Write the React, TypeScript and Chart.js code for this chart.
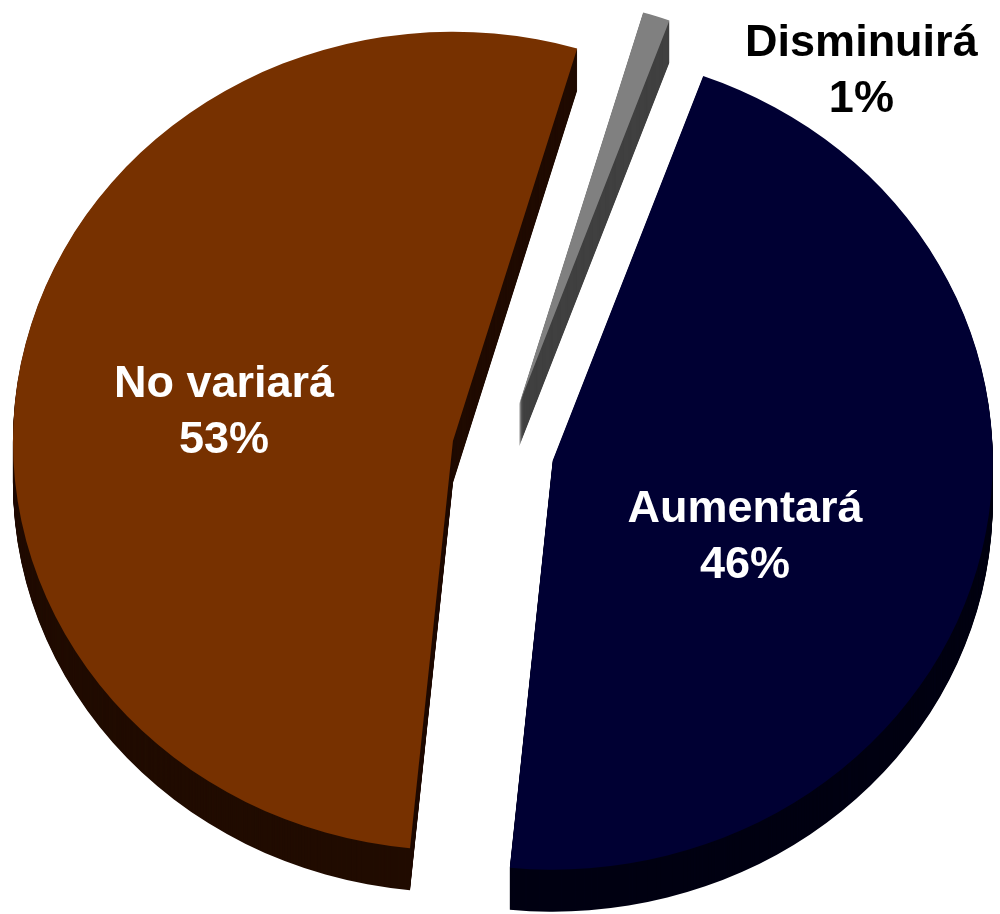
import { useEffect, useRef } from "react";
import { Chart, ArcElement, PieController } from "chart.js";

Chart.register(ArcElement, PieController);

// ---- data ----
const categories = ["Aumentará", "No variará", "Disminuirá"];
const values = [46, 53, 1];
const topColors = ["#000033", "#773100", "#808080"];
const sideColors = ["#000012", "#210C00", "#404040"];
const labelColors = ["#ffffff", "#ffffff", "#000000"];
const labelAngleShift = [7.7, -2, 22.9];
const labelRadiusFrac = [0.587, 0.642, 1.239];

// ---- style constants ----
const ROTATION = 20;
const RADIUS = 440;
const SQUASH = 0.93;
const EXPLODE = 51;
const DEPTH = 42;
const FONT_SIZE = 45;
const LINE_GAP = 56;
const CAP = 32;

const pie3d = {
  id: "pie3d",
  beforeDatasetsDraw(chart: any) {
    const ctx = chart.ctx as CanvasRenderingContext2D;
    const arcs = chart.getDatasetMeta(0).data as any[];
    const place = (arc: any, dy: number) => {
      const mid = (arc.startAngle + arc.endAngle) / 2;
      ctx.translate(0, dy);
      ctx.translate(arc.x, arc.y);
      ctx.scale(1, SQUASH);
      ctx.translate(-arc.x, -arc.y);
      ctx.translate(Math.cos(mid) * EXPLODE, Math.sin(mid) * EXPLODE);
    };
    arcs.forEach((arc, i) => {
      const fake = Object.create(arc);
      fake.options = { ...arc.options, backgroundColor: sideColors[i], borderWidth: 0 };
      for (let k = DEPTH; k >= 1; k--) {
        ctx.save();
        place(arc, k);
        fake.draw(ctx);
        ctx.restore();
      }
    });
    arcs.forEach((arc) => {
      ctx.save();
      place(arc, 0);
      arc.draw(ctx);
      ctx.restore();
    });
    return false;
  },
  afterDraw(chart: any) {
    const ctx = chart.ctx as CanvasRenderingContext2D;
    const arcs = chart.getDatasetMeta(0).data as any[];
    ctx.save();
    ctx.font = `bold ${FONT_SIZE}px "Liberation Sans", Arial, sans-serif`;
    ctx.textAlign = "center";
    ctx.textBaseline = "alphabetic";
    arcs.forEach((arc, i) => {
      const a = (arc.startAngle + arc.endAngle) / 2 + (labelAngleShift[i] * Math.PI) / 180;
      const r = RADIUS * labelRadiusFrac[i];
      const x = arc.x + Math.cos(a) * r;
      const y = arc.y + Math.sin(a) * r * SQUASH;
      ctx.fillStyle = labelColors[i];
      ctx.fillText(categories[i], x, y - LINE_GAP / 2 + CAP / 2);
      ctx.fillText(`${values[i]}%`, x, y + LINE_GAP / 2 + CAP / 2);
    });
    ctx.restore();
  },
};

export default function App() {
  const ref = useRef<HTMLCanvasElement | null>(null);
  useEffect(() => {
    if (!ref.current) return;
    const chart = new Chart(ref.current, {
      type: "pie",
      data: {
        labels: categories,
        datasets: [
          {
            data: values,
            backgroundColor: topColors,
            borderWidth: 0,
            radius: RADIUS,
            rotation: ROTATION,
          } as any,
        ],
      },
      options: {
        animation: false,
        responsive: false,
        events: [],
        rotation: ROTATION,
        radius: RADIUS,
        layout: { padding: { left: 6, right: 0, top: 0, bottom: 14 } },
      } as any,
      plugins: [pie3d as any],
    });
    return () => chart.destroy();
  }, []);
  return (
    <div style={{ position: "fixed", left: 0, top: 0, width: 1000, height: 914, background: "#fff" }}>
      <canvas ref={ref} width={1000} height={914} style={{ display: "block" }} />
    </div>
  );
}
